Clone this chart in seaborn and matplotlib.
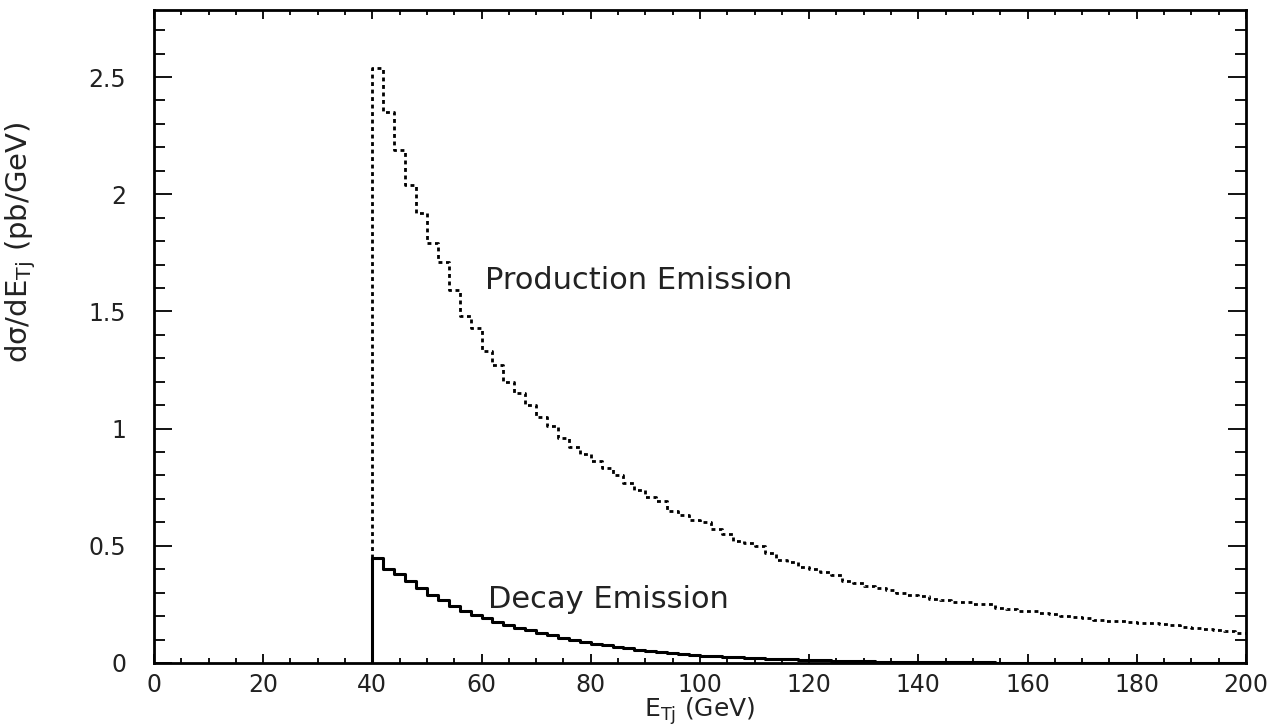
import numpy as np
import pandas as pd
import matplotlib
matplotlib.use("Agg")
import matplotlib.pyplot as plt
from matplotlib.ticker import MultipleLocator, FixedLocator
import seaborn as sns

# ---------------- data ----------------
bin_width = 2.0
first_edge = 40.0

production = [2.54, 2.35, 2.19, 2.04, 1.92, 1.79, 1.71, 1.59, 1.48, 1.43,
              1.33, 1.27, 1.20, 1.15, 1.10, 1.05, 1.01, 0.96, 0.92, 0.89,
              0.86, 0.83, 0.80, 0.77, 0.74, 0.71, 0.69, 0.65, 0.63, 0.61,
              0.60, 0.57, 0.55, 0.52, 0.51, 0.50, 0.47, 0.44, 0.43, 0.41,
              0.40, 0.39, 0.375, 0.35, 0.34, 0.33, 0.32, 0.31, 0.30, 0.29,
              0.285, 0.275, 0.27, 0.26, 0.26, 0.25, 0.25, 0.235, 0.23, 0.22,
              0.22, 0.215, 0.21, 0.20, 0.195, 0.19, 0.185, 0.18, 0.18, 0.175,
              0.17, 0.17, 0.165, 0.16, 0.155, 0.15, 0.145, 0.14, 0.135, 0.13]

decay = [0.45, 0.40, 0.38, 0.35, 0.32, 0.29, 0.27, 0.245, 0.22, 0.205,
         0.19, 0.175, 0.16, 0.15, 0.14, 0.128, 0.118, 0.108, 0.098, 0.09,
         0.082, 0.075, 0.068, 0.062, 0.056, 0.05, 0.046, 0.042, 0.038, 0.034,
         0.031, 0.028, 0.026, 0.024, 0.022, 0.02, 0.018, 0.016, 0.015, 0.013,
         0.012, 0.011, 0.010, 0.009, 0.008, 0.007, 0.006, 0.006, 0.005, 0.005,
         0.004, 0.004, 0.004, 0.003, 0.003, 0.003, 0.003, 0.002, 0.002, 0.002,
         0.002, 0.002, 0.002, 0.002, 0.001, 0.001, 0.001, 0.001, 0.001, 0.001,
         0.001, 0.001, 0.001, 0.001, 0.001, 0.001, 0.001, 0.001, 0.001, 0.001]

x_ticks = [0, 20, 40, 60, 80, 100, 120, 140, 160, 180, 200]
x_tick_labels = ["0", "20", "40", "60", "80", "100", "120", "140", "160", "180", "200"]
y_ticks = [0, 0.5, 1.0, 1.5, 2.0, 2.5]
y_tick_labels = ["0", "0.5", "1", "1.5", "2", "2.5"]

label_production = "Production Emission"
label_decay = "Decay Emission"
x_label = r"E$_{\rm Tj}$ (GeV)"
y_label = r"dσ/dE$_{\rm Tj}$ (pb/GeV)"


def step_frame(values):
    n = len(values)
    edges = first_edge + bin_width * np.arange(n + 1)
    xs = np.concatenate([[first_edge], edges])
    ys = np.concatenate([[0.0], values, [values[-1]]])
    return pd.DataFrame({"x": xs, "y": ys})


df_prod = step_frame(production)
df_decay = step_frame(decay)

# ---------------- style ----------------
sns.set_theme(style="ticks")
plt.rcParams["font.family"] = ["DejaVu Sans"]
plt.rcParams["mathtext.default"] = "regular"

fig = plt.figure(figsize=(12.85, 7.26), dpi=100)
ax = fig.add_axes([0.1198, 0.0868, 0.8498, 0.8994])

sns.lineplot(data=df_prod, x="x", y="y", ax=ax, estimator=None, sort=False,
             drawstyle="steps-post", color="black", linewidth=2.0,
             linestyle=(0, (1.4, 1.3)))
sns.lineplot(data=df_decay, x="x", y="y", ax=ax, estimator=None, sort=False,
             drawstyle="steps-post", color="black", linewidth=2.2)

ax.set_xlim(0, 200)
ax.set_ylim(0, 2.786)

ax.xaxis.set_major_locator(FixedLocator(x_ticks))
ax.set_xticklabels(x_tick_labels)
ax.xaxis.set_minor_locator(MultipleLocator(5))
ax.yaxis.set_major_locator(FixedLocator(y_ticks))
ax.set_yticklabels(y_tick_labels)
ax.yaxis.set_minor_locator(MultipleLocator(0.1))

ax.tick_params(axis="both", which="both", direction="in", top=True, right=True,
               color="black", width=1.3, labelcolor="#222222")
ax.tick_params(axis="y", which="major", length=13, pad=20, labelsize=17)
ax.tick_params(axis="y", which="minor", length=8)
ax.tick_params(axis="x", which="major", length=6.5, pad=7, labelsize=17)
ax.tick_params(axis="x", which="minor", length=3.6)

for sp in ax.spines.values():
    sp.set_linewidth(2.0)
    sp.set_color("black")

ax.set_xlabel(x_label, fontsize=18, color="#222222")
ax.xaxis.set_label_coords(0.5, -0.05)
ax.set_ylabel(y_label, fontsize=21, color="#222222")
ax.yaxis.set_label_coords(-0.106, 0.645)

ax.text(60.6, 1.63, label_production, fontsize=22, ha="left", va="center",
        color="#222222")
ax.text(61.2, 0.27, label_decay, fontsize=22, ha="left", va="center",
        color="#222222")

fig.savefig("out.png", dpi=100, facecolor="white")
